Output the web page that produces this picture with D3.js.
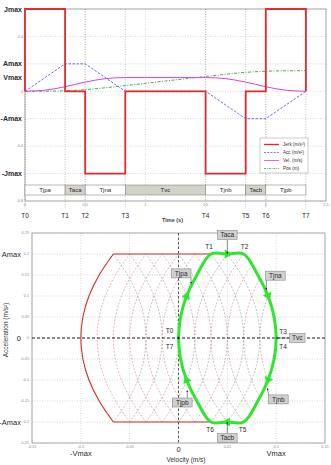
<!DOCTYPE html>
<html>
<head>
<meta charset="utf-8">
<script src="https://cdn.jsdelivr.net/npm/d3@7"></script>
<style>
  body { margin: 0; background: #fff; }
  svg { display: block; font-family: 'Liberation Sans', Arial, sans-serif; }
</style>
</head>
<body>
<svg id="chart" width="331" height="465"></svg>
<script>
// ---- top plot: jerk / acc / vel / pos over time ----
const TIME_TICKS = [0, 0.5, 1, 1.5, 2, 2.5];
const Y1_TICKS = [-0.8, -0.6, -0.4, -0.2, 0, 0.2, 0.4, 0.6];

const JERK_T = [0, 0, 0.333, 0.5, 0.833, 1.5, 1.833, 2.0, 2.333];
const JERK = [0, 0.6, 0, -0.6, 0, -0.6, 0, 0.6, 0];

const ACC_T = [0, 0.333, 0.5, 0.833, 1.5, 1.833, 2.0, 2.333];
const ACC = [0, 0.2, 0.2, 0, 0, -0.2, -0.2, 0];

const VEL_T = [0, 0.167, 0.333, 0.5, 0.667, 0.833, 1.0, 1.5, 1.667, 1.833, 2.0, 2.167, 2.333];
const VEL = [0, 0.008, 0.033, 0.067, 0.092, 0.1, 0.1, 0.1, 0.092, 0.067, 0.033, 0.008, 0];

const POS_T = [0, 0.167, 0.333, 0.5, 0.667, 0.833, 1.0, 1.167, 1.333, 1.5, 1.667, 1.833, 2.0, 2.167, 2.333];
const POS = [0, 0.0005, 0.0037, 0.0121, 0.0259, 0.0417, 0.0583, 0.075, 0.0917, 0.1083, 0.1241, 0.1379, 0.1463, 0.1495, 0.15];

const T_NAMES = ['T0', 'T1', 'T2', 'T3', 'T4', 'T5', 'T6', 'T7'];
const T_TIMES = [0, 0.333, 0.5, 0.833, 1.5, 1.833, 2.0, 2.333];

const SEG_NAMES = ['Tjpa', 'Taca', 'Tjna', 'Tvc', 'Tjnb', 'Tacb', 'Tjpb'];
const SEG_SHADED = [false, true, false, true, false, true, false];

const LEVEL_NAMES = ['Jmax', 'Amax', 'Vmax', '-Amax', '-Jmax'];
const LEVEL_VALUES = [0.6, 0.2, 0.1, -0.2, -0.6];

const LEGEND_NAMES = ['Jerk (m/s³)', 'Acc (m/s²)', 'Vel. (m/s)', 'Pos (m)'];

// ---- bottom plot: phase plane (velocity, acceleration) ----
const V_TICKS = [-0.15, -0.1, -0.05, 0, 0.05, 0.1, 0.15];
const A_TICKS = [-0.25, -0.2, -0.15, -0.1, -0.05, 0, 0.05, 0.1, 0.15, 0.2, 0.25];

const GREEN_V = [0, 0.0021, 0.0083, 0.0188, 0.0333, 0.05, 0.0667, 0.0812, 0.0917, 0.0979, 0.1,
                 0.0979, 0.0917, 0.0812, 0.0667, 0.05, 0.0333, 0.0188, 0.0083, 0.0021, 0];
const GREEN_A = [0, 0.05, 0.1, 0.15, 0.2, 0.2, 0.2, 0.15, 0.1, 0.05, 0,
                 -0.05, -0.1, -0.15, -0.2, -0.2, -0.2, -0.15, -0.1, -0.05, 0];

// left boundary of the reachable region (parabola) and its Amax / -Amax edges
const RED_V = [-0.0667, -0.0812, -0.0917, -0.0979, -0.1, -0.0979, -0.0917, -0.0812, -0.0667];
const RED_A = [-0.2, -0.15, -0.1, -0.05, 0, 0.05, 0.1, 0.15, 0.2];
const RED_EDGE_V = [-0.0667, 0.0333];

// shape of one trajectory arc (velocity offset from vertex vs acceleration)
const ARC_A = [-0.2, -0.15, -0.1, -0.05, 0, 0.05, 0.1, 0.15, 0.2];
const ARC_DV = [0.0333, 0.0188, 0.0083, 0.0021, 0, 0.0021, 0.0083, 0.0188, 0.0333];
const ARC_OPEN_RIGHT = [-0.0833, -0.0667, -0.05, -0.0333, -0.0167, 0.0167, 0.0333, 0.05, 0.0667, 0.0833];
const ARC_OPEN_LEFT = [-0.0333, -0.0167, 0, 0.0167, 0.0333, 0.05, 0.0667, 0.0833];

const ARROW_V = [0.0083, 0.05, 0.0917, 0.0917, 0.05, 0.0083];
const ARROW_A = [0.1, 0.2, 0.1, -0.1, -0.2, -0.1];

const NOTE_NAMES = ['Taca', 'Tjpa', 'Tjna', 'Tvc', 'Tjnb', 'Tacb', 'Tjpb'];
const NOTE_V = [0.05, 0.013, 0.09, 0.1, 0.091, 0.05, 0.009];
const NOTE_A = [0.2, 0.13, 0.115, 0, -0.12, -0.2, -0.125];

const PT_NAMES = ['T0', 'T7', 'T1', 'T2', 'T3', 'T4', 'T5', 'T6'];
const PT_V = [0, 0, 0.0333, 0.0667, 0.1, 0.1, 0.0667, 0.0333];
const PT_A = [0, 0, 0.2, 0.2, 0, 0, -0.2, -0.2];

const svg = d3.select('#chart');
const GRID = '#bcbcbc';
const FRAME = '#8a8a8a';
const DARK = '#2a2a2a';

// ================= TOP PLOT =================
const box1 = { l: 25, r: 326, t: 9, b: 201 };
const x1 = d3.scaleLinear().domain([0, 2.5]).range([box1.l, box1.r]);
const y1 = d3.scaleLinear().domain([-0.8, 0.6]).range([box1.b, box1.t]);
const g1 = svg.append('g');

// grid
g1.selectAll('.vg').data(TIME_TICKS).join('line')
    .attr('x1', d => x1(d)).attr('x2', d => x1(d)).attr('y1', box1.t).attr('y2', box1.b)
    .attr('stroke', GRID).attr('stroke-width', 0.6).attr('stroke-dasharray', '1,1.5');
g1.selectAll('.hg').data(Y1_TICKS).join('line')
    .attr('x1', box1.l).attr('x2', box1.r).attr('y1', d => y1(d)).attr('y2', d => y1(d))
    .attr('stroke', GRID).attr('stroke-width', 0.6).attr('stroke-dasharray', '1,1.5');

// T markers: dotted verticals down past the axis
g1.selectAll('.tv').data(T_TIMES).join('line')
    .attr('x1', d => x1(d)).attr('x2', d => x1(d)).attr('y1', box1.t).attr('y2', 208)
    .attr('stroke', '#999').attr('stroke-width', 0.6).attr('stroke-dasharray', '1,1.5');

// frame
g1.append('rect').attr('x', box1.l).attr('y', box1.t)
    .attr('width', box1.r - box1.l).attr('height', box1.b - box1.t)
    .attr('fill', 'none').attr('stroke', FRAME).attr('stroke-width', 0.7);

// tick labels (the ones under a level name are hidden behind it)
g1.selectAll('.ytl').data(Y1_TICKS.filter(d => !LEVEL_VALUES.includes(d))).join('text')
    .attr('x', box1.l - 2).attr('y', d => y1(d) + 1.3).attr('text-anchor', 'end')
    .style('font-size', '3.8px').style('fill', '#888').text(d => d);
g1.selectAll('.xtl').data(TIME_TICKS).join('text')
    .attr('x', d => x1(d)).attr('y', box1.b + 5).attr('text-anchor', 'middle')
    .style('font-size', '3.8px').style('fill', '#888').text(d => d);

// phase segment bar
const SEG_START = T_TIMES.slice(0, -1);
const SEG_END = T_TIMES.slice(1);
const segG = g1.selectAll('.seg').data(SEG_NAMES).join('g');
segG.append('rect')
    .attr('x', (d, i) => x1(SEG_START[i])).attr('y', 185)
    .attr('width', (d, i) => x1(SEG_END[i]) - x1(SEG_START[i])).attr('height', 10)
    .attr('fill', (d, i) => SEG_SHADED[i] ? '#d2d2ca' : '#fff')
    .attr('stroke', '#8a8a8a').attr('stroke-width', 0.6);
segG.append('text')
    .attr('x', (d, i) => (x1(SEG_START[i]) + x1(SEG_END[i])) / 2).attr('y', 192.2)
    .attr('text-anchor', 'middle').style('font-size', '6px').style('fill', DARK)
    .text(d => d);

// series
const line1 = (xs, ys, curve) => d3.line().x((d, i) => x1(xs[i])).y(d => y1(d)).curve(curve)(ys);
g1.append('path').attr('d', line1(POS_T, POS, d3.curveMonotoneX))
    .attr('fill', 'none').attr('stroke', '#3c9c3c').attr('stroke-width', 0.9)
    .attr('stroke-dasharray', '3,1.5,1,1.5');
g1.append('path').attr('d', line1(VEL_T, VEL, d3.curveMonotoneX))
    .attr('fill', 'none').attr('stroke', '#e040e0').attr('stroke-width', 1);
g1.append('path').attr('d', line1(ACC_T, ACC, d3.curveLinear))
    .attr('fill', 'none').attr('stroke', '#5a5ae8').attr('stroke-width', 0.9)
    .attr('stroke-dasharray', '2.5,1.5');
g1.append('path').attr('d', line1(JERK_T, JERK, d3.curveStepAfter))
    .attr('fill', 'none').attr('stroke', '#e42a2a').attr('stroke-width', 1.8);

// level names on left
g1.selectAll('.lvl').data(LEVEL_NAMES).join('text')
    .attr('x', box1.l - 3).attr('y', (d, i) => y1(LEVEL_VALUES[i]) + 2.5).attr('text-anchor', 'end')
    .style('font-size', '7px').style('font-weight', 'bold').style('fill', DARK)
    .text(d => d);

// T names under axis
g1.selectAll('.tn').data(T_NAMES).join('text')
    .attr('x', (d, i) => x1(T_TIMES[i])).attr('y', 218).attr('text-anchor', 'middle')
    .style('font-size', '6.5px').style('fill', DARK).text(d => d);

g1.append('text').attr('x', 162).attr('y', 222)
    .style('font-size', '5.5px').style('font-weight', 'bold').style('fill', '#444').text('Time (s)');

// legend
const LEG_STYLES = [
    { c: '#e42a2a', w: 1.4, dash: null },
    { c: '#5a5ae8', w: 0.8, dash: '2,1.2' },
    { c: '#e040e0', w: 0.8, dash: null },
    { c: '#3c9c3c', w: 0.8, dash: '2,1,0.7,1' }
];
const leg = g1.append('g').attr('transform', 'translate(260,138)');
leg.append('rect').attr('width', 48).attr('height', 35)
    .attr('fill', '#fff').attr('stroke', '#aaa').attr('stroke-width', 0.6);
const legRow = leg.selectAll('.lr').data(LEGEND_NAMES).join('g')
    .attr('transform', (d, i) => `translate(0,${6.5 + i * 8})`);
legRow.append('line').attr('x1', 4).attr('x2', 19)
    .attr('stroke', (d, i) => LEG_STYLES[i].c).attr('stroke-width', (d, i) => LEG_STYLES[i].w)
    .attr('stroke-dasharray', (d, i) => LEG_STYLES[i].dash);
legRow.append('text').attr('x', 23).attr('y', 1.6)
    .style('font-size', '4.6px').style('fill', '#333').text(d => d);

// ================= BOTTOM PLOT =================
const box2 = { l: 32, r: 325, t: 233, b: 443 };
const x2 = d3.scaleLinear().domain([-0.15, 0.15]).range([box2.l, box2.r]);
const y2 = d3.scaleLinear().domain([-0.25, 0.25]).range([box2.b, box2.t]);
const g2 = svg.append('g');

g2.selectAll('.vg').data(V_TICKS).join('line')
    .attr('x1', d => x2(d)).attr('x2', d => x2(d)).attr('y1', box2.t).attr('y2', box2.b)
    .attr('stroke', GRID).attr('stroke-width', 0.6).attr('stroke-dasharray', '1,1.5');
g2.selectAll('.hg').data(A_TICKS).join('line')
    .attr('x1', box2.l).attr('x2', box2.r).attr('y1', d => y2(d)).attr('y2', d => y2(d))
    .attr('stroke', GRID).attr('stroke-width', 0.6).attr('stroke-dasharray', '1,1.5');

g2.append('rect').attr('x', box2.l).attr('y', box2.t)
    .attr('width', box2.r - box2.l).attr('height', box2.b - box2.t)
    .attr('fill', 'none').attr('stroke', FRAME).attr('stroke-width', 0.7);

g2.selectAll('.ytl').data(A_TICKS).join('text')
    .attr('x', box2.l - 3).attr('y', d => y2(d) + 1.3).attr('text-anchor', 'end')
    .style('font-size', '3.8px').style('fill', '#888').text(d => d);
g2.selectAll('.xtl').data(V_TICKS.filter(d => d !== 0)).join('text')
    .attr('x', d => x2(d)).attr('y', box2.b + 5).attr('text-anchor', 'middle')
    .style('font-size', '3.8px').style('fill', '#888').text(d => d);

// smooth curve helper through (v, a) pairs
const curvePath = (vs, as) => d3.line()
    .x((d, i) => x2(d)).y((d, i) => y2(as[i]))
    .curve(d3.curveCatmullRom.alpha(0.5))(vs);

// clip region: left boundary parabola + right side of the green loop (T2..T5)
const rightV = GREEN_V.slice(6, 15), rightA = GREEN_A.slice(6, 15);
const envD = curvePath(RED_V, RED_A) + 'L' + curvePath(rightV, rightA).slice(1) + 'Z';
svg.append('defs').append('clipPath').attr('id', 'env')
    .append('path').attr('d', envD);

const arcLine = (v0, s) => curvePath(ARC_DV.map(dv => v0 + s * dv), ARC_A);
const lattice = g2.append('g').attr('clip-path', 'url(#env)');
lattice.selectAll('.ar').data(ARC_OPEN_RIGHT).join('path')
    .attr('d', d => arcLine(d, 1)).attr('fill', 'none')
    .attr('stroke', '#cf8a8a').attr('stroke-width', 0.6).attr('stroke-dasharray', '2,1.5');
lattice.selectAll('.al').data(ARC_OPEN_LEFT).join('path')
    .attr('d', d => arcLine(d, -1)).attr('fill', 'none')
    .attr('stroke', '#9a9a9a').attr('stroke-width', 0.6).attr('stroke-dasharray', '2,1.5');

// zero axes (dashed black)
g2.append('line').attr('x1', box2.l).attr('x2', box2.r).attr('y1', y2(0)).attr('y2', y2(0))
    .attr('stroke', '#222').attr('stroke-width', 1.1).attr('stroke-dasharray', '3,2');
g2.append('line').attr('x1', x2(0)).attr('x2', x2(0)).attr('y1', box2.t).attr('y2', box2.b)
    .attr('stroke', '#333').attr('stroke-width', 0.8).attr('stroke-dasharray', '2.5,2');

// red envelope: parabola plus the Amax / -Amax edges
g2.append('path').attr('d', curvePath(RED_V, RED_A))
    .attr('fill', 'none').attr('stroke', '#d42a2a').attr('stroke-width', 1.1);
[0.2, -0.2].forEach(a => {
    g2.append('line')
        .attr('x1', x2(RED_EDGE_V[0])).attr('x2', x2(RED_EDGE_V[1]))
        .attr('y1', y2(a)).attr('y2', y2(a))
        .attr('stroke', '#d42a2a').attr('stroke-width', 1.1);
});

// green trajectory
g2.append('path').attr('d', curvePath(GREEN_V, GREEN_A))
    .attr('fill', 'none').attr('stroke', '#2ee62e').attr('stroke-width', 3)
    .attr('stroke-linejoin', 'round');

// direction arrows on the trajectory
ARROW_V.forEach((v, k) => {
    const i = GREEN_V.findIndex((gv, j) => gv === v && GREEN_A[j] === ARROW_A[k]);
    const dx = x2(GREEN_V[i + 1]) - x2(GREEN_V[i - 1]);
    const dy = y2(GREEN_A[i + 1]) - y2(GREEN_A[i - 1]);
    const ang = Math.atan2(dy, dx) * 180 / Math.PI + 90;
    g2.append('path')
        .attr('d', d3.symbol(d3.symbolTriangle, 34)())
        .attr('transform', `translate(${x2(v)},${y2(ARROW_A[k])}) rotate(${ang})`)
        .attr('fill', '#2ee62e');
});

// callout boxes
const NOTE_BOX = [[0, -19], [-10, -10], [9, -14], [21, 0], [11, 11], [0, 16], [-5, 12]];
svg.append('defs').append('marker').attr('id', 'tip')
    .attr('viewBox', '0 0 6 6').attr('refX', 5).attr('refY', 3)
    .attr('markerWidth', 4).attr('markerHeight', 4).attr('orient', 'auto')
    .append('path').attr('d', 'M0,0L6,3L0,6Z').attr('fill', '#222');
NOTE_NAMES.forEach((name, k) => {
    const tx = x2(NOTE_V[k]), ty = y2(NOTE_A[k]);
    const bx = tx + NOTE_BOX[k][0], by = ty + NOTE_BOX[k][1];
    const w = name.length * 3.9 + 4, h = 9;
    const ex = bx + Math.sign(-NOTE_BOX[k][0]) * Math.min(w / 2, Math.abs(NOTE_BOX[k][0]));
    const ey = by + Math.sign(-NOTE_BOX[k][1]) * h / 2;
    g2.append('line')
        .attr('x1', NOTE_BOX[k][1] === 0 ? bx - w / 2 : ex).attr('y1', NOTE_BOX[k][1] === 0 ? by : ey)
        .attr('x2', tx).attr('y2', ty)
        .attr('stroke', '#222').attr('stroke-width', 0.5).attr('marker-end', 'url(#tip)');
    g2.append('rect').attr('x', bx - w / 2).attr('y', by - h / 2).attr('width', w).attr('height', h)
        .attr('fill', '#d0d0d0').attr('stroke', '#8a8a8a').attr('stroke-width', 0.6);
    g2.append('text').attr('x', bx).attr('y', by + 2.4).attr('text-anchor', 'middle')
        .style('font-size', '6.5px').style('fill', DARK).text(name);
});

// T point names
const PT_OFF = [[-9, -5], [-9, 11], [-2, -5], [1, -5], [7, -4], [7, 11], [-1, 10], [-1, 10]];
PT_NAMES.forEach((name, k) => {
    g2.append('text')
        .attr('x', x2(PT_V[k]) + PT_OFF[k][0]).attr('y', y2(PT_A[k]) + PT_OFF[k][1])
        .attr('text-anchor', 'middle').style('font-size', '6.5px').style('fill', DARK).text(name);
});
g2.append('circle').attr('cx', x2(0)).attr('cy', y2(0)).attr('r', 1.2).attr('fill', '#111');

// axis names
g2.append('text').attr('transform', `translate(8,${y2(0) - 8}) rotate(-90)`)
    .attr('text-anchor', 'middle').style('font-size', '6.5px').style('fill', '#333')
    .text('Acceleration (m/s²)');
g2.append('text').attr('x', 186).attr('y', 462).attr('text-anchor', 'middle')
    .style('font-size', '6.5px').style('fill', '#333').text('Velocity (m/s)');

const A_NAMES = ['Amax', '0', '-Amax'];
const A_VALUES = [0.2, 0, -0.2];
g2.selectAll('.an').data(A_NAMES).join('text')
    .attr('x', 21).attr('y', (d, i) => y2(A_VALUES[i]) + 2.8).attr('text-anchor', 'end')
    .style('font-size', '7.5px').style('fill', DARK).text(d => d);
const V_NAMES = ['-Vmax', '0', 'Vmax'];
const V_VALUES = [-0.1, 0, 0.1];
g2.selectAll('.vn').data(V_NAMES).join('text')
    .attr('x', (d, i) => x2(V_VALUES[i])).attr('y', (d, i) => d === '0' ? 452 : 456)
    .attr('text-anchor', 'middle')
    .style('font-size', '7.5px').style('fill', DARK).text(d => d);
</script>
</body>
</html>
